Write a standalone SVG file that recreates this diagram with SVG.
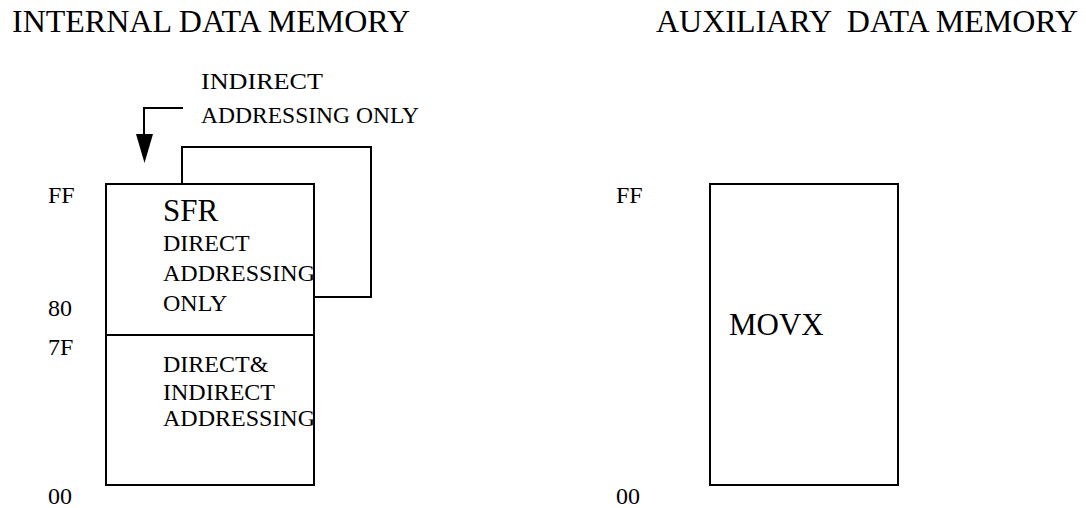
<svg xmlns="http://www.w3.org/2000/svg" width="1086" height="508" viewBox="0 0 1086 508">
<style>
text{font-family:"Liberation Serif","Times New Roman",serif;fill:#000}
.t{font-size:32px;white-space:pre}
.l{font-size:24px}
.b{font-size:31px}
.s{font-size:24px}
.box{fill:none;stroke:#000;stroke-width:2}
.ln{fill:none;stroke:#000;stroke-width:2}
</style>
<rect width="1086" height="508" fill="#fff"/>
<g id="titles">
<text class="t" x="12" y="32">INTERNAL DATA MEMORY</text>
<text class="t" x="656" y="32" xml:space="preserve">AUXILIARY  DATA MEMORY</text>
</g>
<g id="internal-labels">
<text class="l" x="48" y="203">FF</text>
<text class="l" x="48" y="316">80</text>
<text class="l" x="48" y="355">7F</text>
<text class="l" x="48" y="504">00</text>
</g>
<g id="sfr">
<rect class="box" x="106" y="184" width="208" height="151"/>
<text class="b" x="163" y="221">SFR</text>
<text class="s" x="163" y="251">DIRECT</text>
<text class="s" x="163" y="281">ADDRESSING</text>
<text class="s" x="163" y="311">ONLY</text>
</g>
<g id="lower-ram">
<rect class="box" x="106" y="335" width="208" height="150"/>
<text class="s" x="163" y="372">DIRECT&amp;</text>
<text class="s" x="163" y="400">INDIRECT</text>
<text class="s" x="163" y="426">ADDRESSING</text>
</g>
<g id="upper-ram">
<path class="ln" d="M182,184 V147 H371 V297 H314"/>
</g>
<g id="indirect-label">
<text class="s" x="201" y="89" textLength="122" lengthAdjust="spacingAndGlyphs">INDIRECT</text>
<text class="s" x="201" y="123" textLength="218" lengthAdjust="spacingAndGlyphs">ADDRESSING ONLY</text>
</g>
<g id="connectors">
<path class="ln" d="M183,108 H144 V136"/>
<polygon points="136,134 153,134 144.5,163" fill="#000"/>
</g>
<g id="aux-labels">
<text class="l" x="616" y="203">FF</text>
<text class="l" x="616" y="504">00</text>
</g>
<g id="aux-memory">
<rect class="box" x="710" y="184" width="188" height="301"/>
<text class="b" x="729" y="335">MOVX</text>
</g>
</svg>
